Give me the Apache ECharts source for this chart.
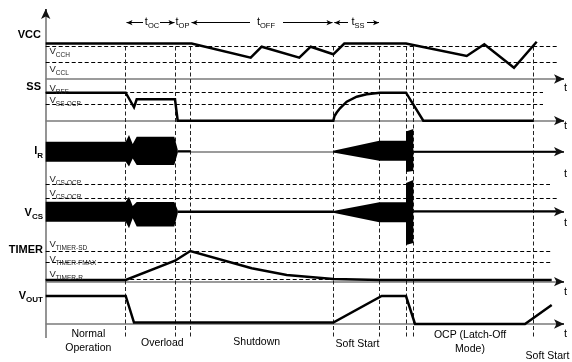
<!DOCTYPE html>
<html><head><meta charset="utf-8">
<script src="https://cdn.jsdelivr.net/npm/echarts@6/dist/echarts.min.js"></script>
<style>html,body{margin:0;padding:0;background:#fff}#c{width:572px;height:362px}</style>
</head><body><div id="c"></div>
<script>
// ---------- DATA (schematic time / level units) ----------
const axisTime = 45.7;                       // time origin (vertical axis)
const phaseEdges = [125.7, 175, 190.7, 333.3, 379.3, 406, 413.3, 533.3];
const rowBaselines = [79, 120.7, 151.7, 211.7, 281.7, 324];   // VCC, SS, IR, VCS, TIMER, VOUT zero levels
const thresholdLevels = [46.7, 62, 92.7, 104, 184, 198.3, 251.7, 262.7, 279.3];
const thresholdEnds   = [558, 558, 543, 543, 550, 558, 552, 552, 552];

const vccWave = [[45.7,43.5],[191.7,43.5],[250.7,57.7],[261.7,46.7],[299.3,57.7],[310.7,46.7],[333.3,54.3],[344.3,43.5],[406,43.5],[466.7,56],[484.3,44.3],[514,67.7],[536.7,41.7]];
const ssWave = [[45.7,92.7],[125.7,92.7],[134,107.3],[136.7,99.3],[175,99.3],[177.7,120.7],[333.3,120.7],[334.5,116],[336.7,112.5],[340,108.3],[346.7,101.7],[356.7,96.7],[366.7,94.3],[380,92.7],[406,92.7],[423.3,120.7],[533.3,120.7]];
const timerWave = [[45.7,280],[125.7,280],[175,260.7],[190.3,251],[251.7,268.3],[286.7,275],[333.3,279],[380,280],[551.7,280]];
const voutWave = [[45.7,296],[125.7,296],[134,322.5],[333.3,322.5],[381.7,296],[406,296],[415,324],[525,324],[551.7,305]];

const irEnvelopes = [
  [[45.7,141.7],[125.7,141.7],[129,135],[132.7,144],[136.7,136.7],[174.3,136.7],[177.7,149.5],[177.7,153],[174.3,165],[136.7,165],[132.7,158.5],[129,166.5],[125.7,161.7],[45.7,161.7]],
  [[333.3,150.7],[379.3,140.7],[406,140.7],[406,131.5],[413.3,129],[413.3,171],[406,172],[406,160.7],[379.3,160.7],[333.3,152.5]]
];
const vcsEnvelopes = [
  [[45.7,201.7],[125.7,201.7],[129,196.7],[132.7,206],[136.7,202],[174.3,202],[177.7,210],[177.7,213.5],[174.3,226.5],[136.7,226.5],[132.7,218.3],[129,228.3],[125.7,221.7],[45.7,221.7]],
  [[333.3,211],[379.3,202.3],[406,202.3],[406,183],[413.3,180],[413.3,243],[406,245],[406,222.3],[379.3,222.3],[333.3,212.8]]
];
const irTrace = [[[177.7,151.2],[190.7,151.2]], [[413.3,151.7],[556,151.7]]];
const vcsTrace = [[[177.7,211.7],[333.3,211.7]], [[413.3,211.2],[556,211.2]]];

const signalNames = [['VCC',''],['SS',''],['I','R'],['V','CS'],['TIMER',''],['V','OUT']];
const levelNames = [['V','CCH'],['V','CCL'],['V','REF'],['V','SS-OCP'],['V','CS-OCP'],['V','CS-OCR'],['V','TIMER-SD'],['V','TIMER-FMAX'],['V','TIMER-R']];
const intervalNames = [['t','OC'],['t','OP'],['t','OFF'],['t','SS']];
const phaseNames = ['Normal\nOperation','Overload','Shutdown','Soft Start','OCP (Latch-Off\nMode)','Soft Start'];

// ---------- LAYOUT ----------
const FF = '"Liberation Sans", Arial, sans-serif';
const signalPos = [[41,35],[41,87],[43,151.7],[43,213],[43,250],[43,296]];
const levelPos = [52,70,88.5,100.5,180,193.5,245,259.5,275];
const intervalPos = [[152,22.7],[182.5,22.7],[266,22.7],[358,22.7]];
const phasePos = [[88.3,341.5],[162.3,342.7],[256.7,341.7],[357.5,344],[470,341.7],[547.5,356]];
const tPos = [88,126,174.3,223.3,291.7,334.3];

function seg(x1,y1,x2,y2){return [{coord:[x1,y1]},{coord:[x2,y2]}];}
function rich(x,y,main,sub,o){
  return {type:'text', x:x, y:y, silent:true, z:100, style:{
    text: sub ? '{m|'+main+'}{s|'+sub+'}' : '{m|'+main+'}',
    align:o.align, verticalAlign:'middle',
    rich:{
      m:{fontSize:o.fs, fontWeight:o.fw||'normal', fontFamily:FF, fill:o.color||'#000', lineHeight:o.fs+1, verticalAlign:'top'},
      s:{fontSize:o.ss, fontWeight:o.fw||'normal', fontFamily:FF, fill:o.color||'#000', lineHeight:o.ss, padding:[o.off,0,0,0], verticalAlign:'top'}
    }}};
}

const graphics = [];
signalNames.forEach((n,i)=>graphics.push(rich(signalPos[i][0],signalPos[i][1],n[0],n[1],{align:'right',fs:11,ss:8,off:6,fw:'bold'})));
levelNames.forEach((n,i)=>graphics.push(rich(49.5,levelPos[i],n[0],n[1],{align:'left',fs:9.5,ss:6.5,off:5,color:'#222'})));
intervalNames.forEach((n,i)=>graphics.push(rich(intervalPos[i][0],intervalPos[i][1],n[0],n[1],{align:'center',fs:11,ss:7.5,off:5})));
phaseNames.forEach((n,i)=>graphics.push({type:'text',x:phasePos[i][0],y:phasePos[i][1],silent:true,style:{text:n,align:'center',verticalAlign:'middle',font:'10.5px '+FF,lineHeight:14,fill:'#000'}}));
tPos.forEach(y=>graphics.push({type:'text',x:565.5,y:y,silent:true,style:{text:'t',align:'center',verticalAlign:'middle',font:'11px '+FF,fill:'#000'}}));

function traceSeries(data,w,color){
  return {type:'line',data:data,showSymbol:false,silent:true,animation:false,z:5,lineStyle:{width:w,color:color||'#000',join:'miter'}};
}
function blobSeries(polys){
  return {type:'custom',silent:true,animation:false,z:6,data:polys.map(p=>p[0]),
    renderItem:function(params,api){
      const pts = polys[params.dataIndex].map(p=>api.coord(p));
      return {type:'polygon',shape:{points:pts},style:{fill:'#000'}};
    }};
}

const series = [
  // baselines
  {type:'line',data:[],silent:true,animation:false,z:2,markLine:{silent:true,animation:false,symbol:['none','none'],label:{show:false},
    lineStyle:{color:'#7a7a7a',width:1.6,type:'solid'},
    data: rowBaselines.map(y=>seg(axisTime,y,558,y)).concat([seg(axisTime,338,axisTime,14)])}},
  // black arrow heads on baselines and vertical axis
  {type:'line',data:[],silent:true,animation:false,z:4,markLine:{silent:true,animation:false,symbol:['none','arrow'],symbolSize:[7,10],label:{show:false},
    lineStyle:{color:'#111',width:1.6,type:'solid'},
    data: rowBaselines.map(y=>seg(556,y,564,y)).concat([seg(axisTime,16,axisTime,9)])}},
  // threshold dashed lines
  {type:'line',data:[],silent:true,animation:false,z:3,markLine:{silent:true,animation:false,symbol:['none','none'],label:{show:false},
    lineStyle:{color:'#000',width:1,type:[4,2.5]},
    data: thresholdLevels.map((y,i)=>seg(axisTime,y,thresholdEnds[i],y))}},
  // phase edge dashed lines
  {type:'line',data:[],silent:true,animation:false,z:3,markLine:{silent:true,animation:false,symbol:['none','none'],label:{show:false},
    lineStyle:{color:'#222',width:1,type:[4,2.5]},
    data: phaseEdges.map(x=>seg(x,46.5,x,339))}},
  // interval arrows
  {type:'line',data:[],silent:true,animation:false,z:3,markLine:{silent:true,animation:false,symbol:['none','arrow'],symbolSize:[4,6],label:{show:false},
    lineStyle:{color:'#000',width:1,type:'solid'},
    data: [seg(143,22.7,126.5,22.7),seg(160,22.7,174.5,22.7),seg(250,22.7,191.5,22.7),seg(283,22.7,332.5,22.7),seg(348,22.7,334.3,22.7),seg(367,22.7,379,22.7)]}},
  traceSeries(vccWave,2.5),
  traceSeries(ssWave,2.5),
  traceSeries(timerWave,2.5),
  traceSeries(voutWave,2.5),
  traceSeries(irTrace[0],2),
  traceSeries(irTrace[1],2),
  traceSeries(vcsTrace[0],2.5),
  traceSeries(vcsTrace[1],2),
  blobSeries(irEnvelopes),
  blobSeries(vcsEnvelopes)
];

const chart = echarts.init(document.getElementById('c'),null,{renderer:'canvas'});
chart.setOption({
  animation:false,
  backgroundColor:'#fff',
  grid:{left:0,right:0,top:0,bottom:0},
  xAxis:{type:'value',min:0,max:572,show:false},
  yAxis:{type:'value',min:0,max:362,inverse:true,show:false},
  series:series,
  graphic:graphics
});
</script></body></html>
